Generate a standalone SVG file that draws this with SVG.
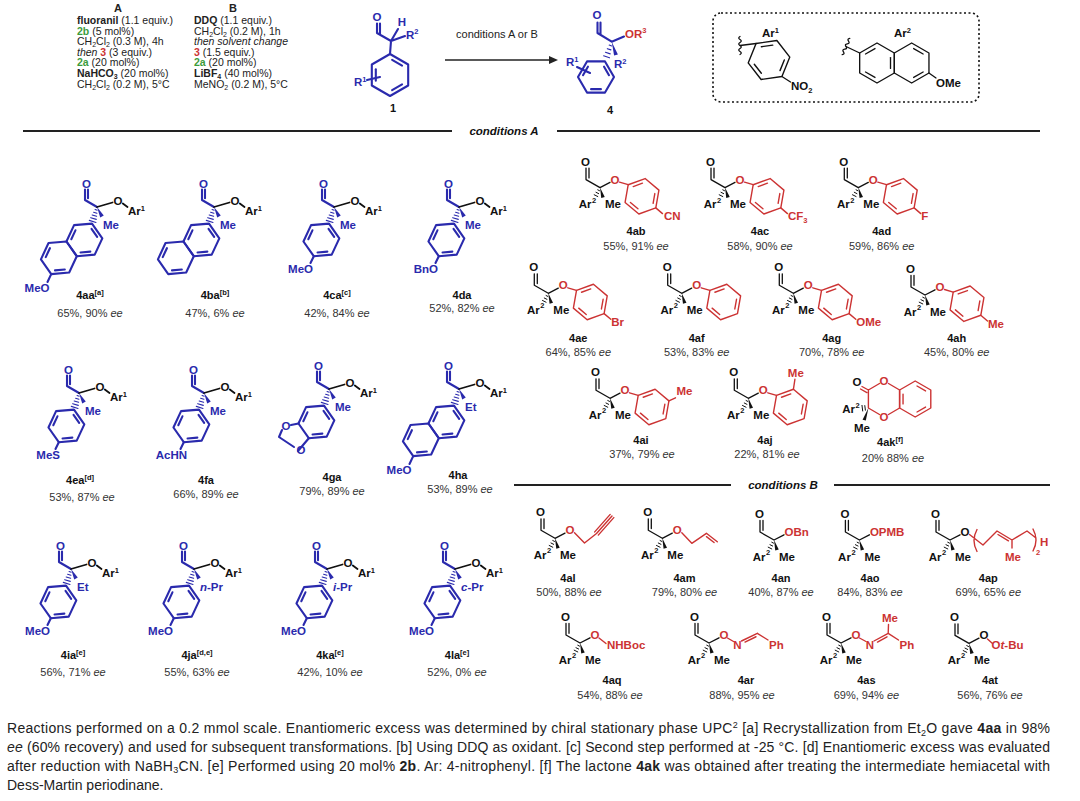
<svg xmlns="http://www.w3.org/2000/svg" width="1080" height="801" viewBox="0 0 1080 801">
<defs>
<style>
.al{font-family:"Liberation Sans",Arial,sans-serif;font-size:11.5px;font-weight:bold}
.lb{font-family:"Liberation Sans",Arial,sans-serif;font-size:11px;font-weight:bold;text-anchor:middle;fill:#111}
.yl{font-family:"Liberation Sans",Arial,sans-serif;font-size:11px;text-anchor:middle;fill:#333}
.B{fill:#2a2aad}
.K{fill:#111}
.R{fill:#cc3333}
.sb{stroke:#2a2aad;stroke-width:2.1;fill:none;stroke-linecap:round;stroke-linejoin:round}
.sk{stroke:#111;stroke-width:1.3;fill:none;stroke-linecap:round;stroke-linejoin:round}
.sk2{stroke:#111;stroke-width:1.8;fill:none;stroke-linecap:round}
.sr{stroke:#cc3333;stroke-width:1.4;fill:none;stroke-linecap:round;stroke-linejoin:round}
.sup{font-size:7.5px}
.sub{font-size:7px}
.cond{font-family:"Liberation Sans",Arial,sans-serif;font-size:10.5px;fill:#222}
.foot{font-family:"Liberation Sans",Arial,sans-serif;font-size:14px;fill:#222}
.rule{stroke:#222;stroke-width:2}
.g{fill:#3c9c3c;font-weight:bold}
.r3{fill:#cc3333;font-weight:bold}
.bd{font-weight:bold}
.it{font-style:italic}
</style>
<polygon id="hex" points="0,-18 15.59,-9 15.59,9 0,18 -15.59,9 -15.59,-9" fill="none"/>
<path id="d01" d="M1.82,-12.99 L10.34,-8.07"/>
<path id="d23" d="M10.34,8.07 L1.82,12.99"/>
<path id="d45" d="M-12.16,4.91 L-12.16,-4.91"/>
<path id="d12" d="M12.16,-4.91 L12.16,4.91"/>
<path id="d34" d="M-1.82,12.99 L-10.34,8.07"/>
<path id="d50" d="M-10.34,-8.07 L-1.82,-12.99"/>
<g id="benz"><use href="#hex"/><use href="#d01"/><use href="#d23"/><use href="#d45"/></g>
<g id="benzB"><use href="#hex"/><use href="#d12"/><use href="#d34"/><use href="#d50"/></g>
<g id="naph"><use href="#benz"/><g transform="translate(-15.59,27)"><use href="#hex"/><use href="#d23"/><use href="#d45"/></g></g>
<path id="sq" d="M0,-9 q-2.5,1.5 0,3 q2.5,1.5 0,3 q-2.5,1.5 0,3 q2.5,1.5 0,3 q-2.5,1.5 0,3 q2.5,1.5 0,3"/>
<g id="coreL">
 <path class="sb" d="M0,0 L-12,-7 L-12,-17.5 M-9,-8.8 L-9,-17.5"/>
 <text class="al B" x="-10.5" y="-19.5" text-anchor="middle">O</text>
 <path class="sk2" d="M0,0 L15.5,-4.5 M25.8,-3.5 L30.5,0"/>
 <text class="al K" x="21" y="-2" text-anchor="middle">O</text>
 <text class="al K" x="31" y="8">Ar<tspan class="sup" dy="-4.5">1</tspan></text>
 <path class="sb" style="stroke-width:1.1" d="M-1.93,2.56 L0.19,3.2 M-3.36,5.27 L-0.1,6.25 M-4.81,7.98 L-0.39,9.3 M-6.25,10.68 L-0.69,12.36 M-7.7,13.39 L-0.98,15.41"/>
 <polygon class="B" points="0,0 6.77,8.57 3.23,10.43"/>
</g>
<g id="ringL"><use href="#benz" class="sb" transform="translate(-12.61,32.91) rotate(25)"/></g>
<g id="coreR">
 <path class="sk" d="M0,0 L-14,-8 L-14,-19.5 M-11,-9.7 L-11,-19.5 M0,0 L10,-5.2"/>
 <text class="al K" x="-14.5" y="-22" text-anchor="middle">O</text>
 <text class="al K" x="-8.5" y="20.5" text-anchor="end">Ar</text>
 <text class="al K sup" x="-8" y="15">2</text>
 <text class="al K" x="5" y="20.5">Me</text>
 <path class="sk" style="stroke-width:1" d="M-2.23,2.23 L-0.45,3.13 M-4.02,4.7 L-1.34,6.04 M-5.81,7.16 L-2.23,8.94"/>
 <polygon class="K" points="0,0 4.72,9.48 1.28,10.52"/>
</g>
<g id="arR">
 <path class="sr" d="M19.5,-5.5 L28.2,-2.9"/>
 <use href="#benz" class="sr" transform="translate(42,8.7) rotate(-50)"/>
</g>
</defs>
<rect width="1080" height="801" fill="#fff"/>

<!-- conditions header -->
<g id="conditions">
 <text class="cond bd" x="118" y="12" text-anchor="middle" style="font-size:11px">A</text>
 <text class="cond bd" x="233" y="12" text-anchor="middle" style="font-size:11px">B</text>
 <text class="cond" x="77" y="24"><tspan class="bd">fluoranil</tspan> (1.1 equiv.)</text>
 <text class="cond" x="77" y="34.6"><tspan class="g">2b</tspan> (5 mol%)</text>
 <text class="cond" x="77" y="45.2">CH<tspan class="sub" dy="2">2</tspan><tspan dy="-2">Cl</tspan><tspan class="sub" dy="2">2</tspan><tspan dy="-2"> (0.3 M), 4h</tspan></text>
 <text class="cond" x="77" y="55.8"><tspan class="it">then</tspan> <tspan class="r3">3</tspan> (3 equiv.)</text>
 <text class="cond" x="77" y="66.4"><tspan class="g">2a</tspan> (20 mol%)</text>
 <text class="cond" x="77" y="77"><tspan class="bd">NaHCO</tspan><tspan class="bd sub" dy="2">3</tspan><tspan dy="-2"> (20 mol%)</tspan></text>
 <text class="cond" x="77" y="87.6">CH<tspan class="sub" dy="2">2</tspan><tspan dy="-2">Cl</tspan><tspan class="sub" dy="2">2</tspan><tspan dy="-2"> (0.2 M), 5°C</tspan></text>
 <text class="cond" x="194" y="24"><tspan class="bd">DDQ</tspan> (1.1 equiv.)</text>
 <text class="cond" x="194" y="34.6">CH<tspan class="sub" dy="2">2</tspan><tspan dy="-2">Cl</tspan><tspan class="sub" dy="2">2</tspan><tspan dy="-2"> (0.2 M), 1h</tspan></text>
 <text class="cond it" x="194" y="45.2">then solvent change</text>
 <text class="cond" x="194" y="55.8"><tspan class="r3">3</tspan> (1.5 equiv.)</text>
 <text class="cond" x="194" y="66.4"><tspan class="g">2a</tspan> (20 mol%)</text>
 <text class="cond" x="194" y="77"><tspan class="bd">LiBF</tspan><tspan class="bd sub" dy="2">4</tspan><tspan dy="-2"> (40 mol%)</tspan></text>
 <text class="cond" x="194" y="87.6">MeNO<tspan class="sub" dy="2">2</tspan><tspan dy="-2"> (0.2 M), 5°C</tspan></text>
</g>

<!-- compound 1 -->
<g id="c1">
 <path class="sb" d="M391,41 L377,33 L377,23.5 M380,34.7 L380,23.5 M391,41 L398,29 M391,41 L405,36 M391,41 L390,54 M367,80 L380,77"/>
 <text class="al B" x="377" y="21" text-anchor="middle">O</text>
 <text class="al B" x="402" y="26" text-anchor="middle">H</text>
 <text class="al B" x="406" y="38.5">R<tspan class="sup" dy="-4.5">2</tspan></text>
 <text class="al B" x="354" y="86">R<tspan class="sup" dy="-4.5">1</tspan></text>
 <use href="#benz" class="sb" style="stroke-width:1.8" transform="translate(390,75) scale(1.1667)"/>
 <text class="lb" x="393" y="112">1</text>
</g>

<!-- arrow -->
<g id="arrow">
 <text class="cond" x="497" y="38" text-anchor="middle" style="font-size:11px">conditions A or B</text>
 <line x1="445" y1="60" x2="551" y2="60" stroke="#222" stroke-width="1.3"/>
 <polygon points="549,56 558,60 549,64" fill="#222"/>
</g>

<!-- compound 4 -->
<g id="c4">
 <path class="sb" d="M611.7,41.7 L597.5,33 L597.5,22.5 M600.5,34.6 L600.5,22.5 M611.7,41.7 L624,36.5 M577,67 L590,73"/>
 <text class="al B" x="597" y="19" text-anchor="middle">O</text>
 <text class="al R" x="625" y="37.5">OR<tspan class="sup" dy="-4.5">3</tspan></text>
 <polygon class="B" points="611.7,41.7 617.9,54.4 614.1,55.6"/>
 <path class="sb" style="stroke-width:1.1" d="M609.18,45.07 L611.64,45.91 M607.32,48.67 L610.92,49.89 M605.47,52.26 L610.21,53.86 M603.61,55.85 L609.49,57.85"/>
 <text class="al B" x="614" y="68">R<tspan class="sup" dy="-4.5">2</tspan></text>
 <text class="al B" x="566" y="66">R<tspan class="sup" dy="-4.5">1</tspan></text>
 <use href="#benz" class="sb" transform="translate(596,77) rotate(30)"/>
 <text class="lb" x="610" y="114">4</text>
</g>

<!-- Ar box -->
<g id="arbox">
 <rect x="713" y="13" width="266" height="89" rx="8" fill="none" stroke="#111" stroke-width="1.6" stroke-dasharray="2,2.5"/>
 <text class="al K" x="762" y="37">Ar<tspan class="sup" dy="-4.5">1</tspan></text>
 <use href="#benz" class="sk" style="stroke-width:1.2" transform="translate(769,60) rotate(-38) scale(1.1667)"/>
 <path class="sk" d="M756.1,43.5 L740,45.5 M781.9,76.5 L790.5,82"/>
 <use href="#sq" class="sk" transform="translate(740,45.5)"/>
 <text class="al K" x="791" y="90">NO<tspan class="sup" dy="2.5">2</tspan></text>
 <text class="al K" x="894" y="37">Ar<tspan class="sup" dy="-4.5">2</tspan></text>
 <g transform="translate(877,63) scale(1.111)" class="sk" style="stroke-width:1.2">
  <use href="#benzB"/>
  <g transform="translate(31.18,0)"><use href="#hex"/><use href="#d01"/><use href="#d23"/></g>
 </g>
 <path class="sk" d="M859.7,53 L846,46.5 M928.9,73 L936,78"/>
 <use href="#sq" class="sk" transform="translate(846,46.5) rotate(25)"/>
 <text class="al K" x="936" y="87">OMe</text>
</g>

<!-- rules -->
<g id="rules">
 <line class="rule" x1="23" y1="131" x2="452" y2="131"/>
 <line class="rule" x1="557" y1="131" x2="1040" y2="131"/>
 <text class="al K" x="504" y="135" text-anchor="middle" font-style="italic">conditions A</text>
 <line class="rule" x1="514" y1="485" x2="731" y2="485"/>
 <line class="rule" x1="834" y1="485" x2="1050" y2="485"/>
 <text class="al K" x="783" y="489" text-anchor="middle" font-style="italic">conditions B</text>
</g>

<!-- left column, row 1 -->
<g id="c4aa" transform="translate(97,207)">
 <use href="#coreL"/><text class="al B" x="6" y="22">Me</text>
 <use href="#naph" class="sb" transform="translate(-12.61,32.91) rotate(25)"/>
 <path class="sb" d="M-45.8,67.1 L-49.5,75"/>
 <text class="al B" x="-47.5" y="85" text-anchor="end">MeO</text>
</g>
<text class="lb" x="90" y="299">4aa<tspan class="sup" dy="-4">[a]</tspan></text>
<text class="yl" x="90" y="317">65%, 90% <tspan class="it">ee</tspan></text>

<g id="c4ba" transform="translate(214,207)">
 <use href="#coreL"/><text class="al B" x="6" y="22">Me</text>
 <use href="#naph" class="sb" transform="translate(-12.61,32.91) rotate(25)"/>
</g>
<text class="lb" x="215" y="299">4ba<tspan class="sup" dy="-4">[b]</tspan></text>
<text class="yl" x="215" y="317">47%, 6% <tspan class="it">ee</tspan></text>

<g id="c4ca" transform="translate(334,207)">
 <use href="#coreL"/><text class="al B" x="6" y="22">Me</text><use href="#ringL"/>
 <path class="sb" d="M-20.2,49.2 L-23.5,56"/>
 <text class="al B" x="-21" y="65.7" text-anchor="end">MeO</text>
</g>
<text class="lb" x="337" y="299">4ca<tspan class="sup" dy="-4">[c]</tspan></text>
<text class="yl" x="337" y="317">42%, 84% <tspan class="it">ee</tspan></text>

<g id="c4da" transform="translate(459,207)">
 <use href="#coreL"/><text class="al B" x="6" y="22">Me</text><use href="#ringL"/>
 <path class="sb" d="M-20.2,49.2 L-23.5,56"/>
 <text class="al B" x="-21" y="65.7" text-anchor="end">BnO</text>
</g>
<text class="lb" x="462" y="299">4da</text>
<text class="yl" x="462" y="312">52%, 82% <tspan class="it">ee</tspan></text>

<!-- left column, row 2 -->
<g id="c4ea" transform="translate(79,393)">
 <use href="#coreL"/><text class="al B" x="6" y="22">Me</text><use href="#ringL"/>
 <path class="sb" d="M-20.2,49.2 L-23.5,56"/>
 <text class="al B" x="-19" y="65.7" text-anchor="end">MeS</text>
</g>
<text class="lb" x="80" y="484">4ea<tspan class="sup" dy="-4">[d]</tspan></text>
<text class="yl" x="82" y="501">53%, 87% <tspan class="it">ee</tspan></text>

<g id="c4fa" transform="translate(204,393)">
 <use href="#coreL"/><text class="al B" x="6" y="22">Me</text><use href="#ringL"/>
 <path class="sb" d="M-20.2,49.2 L-23.5,56"/>
 <text class="al B" x="-17" y="65.7" text-anchor="end">AcHN</text>
</g>
<text class="lb" x="206" y="484">4fa</text>
<text class="yl" x="206" y="498">66%, 89% <tspan class="it">ee</tspan></text>

<g id="c4ga" transform="translate(329,389)">
 <use href="#coreL"/><text class="al B" x="6" y="22">Me</text><use href="#ringL"/>
 <path class="sb" d="M-30.5,34.5 L-38,36 M-47,41 L-50,48 L-35,58 M-31,62 L-20.2,49.2"/>
 <text class="al B" x="-43" y="41" text-anchor="middle">O</text>
 <text class="al B" x="-28" y="65" text-anchor="middle">O</text>
</g>
<text class="lb" x="332" y="481">4ga</text>
<text class="yl" x="332" y="495">79%, 89% <tspan class="it">ee</tspan></text>

<g id="c4ha" transform="translate(459,389)">
 <use href="#coreL"/><text class="al B" x="6" y="22">Et</text>
 <use href="#naph" class="sb" transform="translate(-12.61,32.91) rotate(25)"/>
 <path class="sb" d="M-45.8,67.1 L-49.5,75"/>
 <text class="al B" x="-47.5" y="85" text-anchor="end">MeO</text>
</g>
<text class="lb" x="458" y="479">4ha</text>
<text class="yl" x="460" y="493">53%, 89% <tspan class="it">ee</tspan></text>

<!-- left column, row 3 -->
<g id="c4ia" transform="translate(71,569)">
 <use href="#coreL"/><text class="al B" x="6" y="22">Et</text><use href="#ringL"/>
 <path class="sb" d="M-20.2,49.2 L-23.5,56"/>
 <text class="al B" x="-21" y="65.7" text-anchor="end">MeO</text>
</g>
<text class="lb" x="73" y="659">4ia<tspan class="sup" dy="-4">[e]</tspan></text>
<text class="yl" x="73" y="676">56%, 71% <tspan class="it">ee</tspan></text>

<g id="c4ja" transform="translate(194,569)">
 <use href="#coreL"/><text class="al B" x="6" y="22"><tspan class="it">n</tspan>-Pr</text><use href="#ringL"/>
 <path class="sb" d="M-20.2,49.2 L-23.5,56"/>
 <text class="al B" x="-21" y="65.7" text-anchor="end">MeO</text>
</g>
<text class="lb" x="197" y="659">4ja<tspan class="sup" dy="-4">[d,e]</tspan></text>
<text class="yl" x="197" y="676">55%, 63% <tspan class="it">ee</tspan></text>

<g id="c4ka" transform="translate(327,569)">
 <use href="#coreL"/><text class="al B" x="6" y="22"><tspan class="it">i</tspan>-Pr</text><use href="#ringL"/>
 <path class="sb" d="M-20.2,49.2 L-23.5,56"/>
 <text class="al B" x="-21" y="65.7" text-anchor="end">MeO</text>
</g>
<text class="lb" x="330" y="659">4ka<tspan class="sup" dy="-4">[e]</tspan></text>
<text class="yl" x="330" y="676">42%, 10% <tspan class="it">ee</tspan></text>

<g id="c4la" transform="translate(455,569)">
 <use href="#coreL"/><text class="al B" x="6" y="22"><tspan class="it">c</tspan>-Pr</text><use href="#ringL"/>
 <path class="sb" d="M-20.2,49.2 L-23.5,56"/>
 <text class="al B" x="-21" y="65.7" text-anchor="end">MeO</text>
</g>
<text class="lb" x="457" y="659">4la<tspan class="sup" dy="-4">[e]</tspan></text>
<text class="yl" x="457" y="676">52%, 0% <tspan class="it">ee</tspan></text>

<!-- right column, conditions A -->
<g id="c4ab" transform="translate(600,187.6)">
 <use href="#coreR"/><text class="al R" x="15" y="-4" text-anchor="middle">O</text><use href="#arR"/>
 <path class="sr" d="M55.8,20.3 L62.5,26"/><text class="al R" x="64" y="32.7">CN</text>
</g>
<text class="lb" x="636" y="234.7">4ab</text>
<text class="yl" x="636" y="250">55%, 91% <tspan class="it">ee</tspan></text>

<g id="c4ac" transform="translate(725,187.6)">
 <use href="#coreR"/><text class="al R" x="15" y="-4" text-anchor="middle">O</text><use href="#arR"/>
 <path class="sr" d="M55.8,20.3 L62.5,26"/><text class="al R" x="63" y="32.7">CF<tspan class="sup" dy="2.5">3</tspan></text>
</g>
<text class="lb" x="760" y="234.7">4ac</text>
<text class="yl" x="760" y="250">58%, 90% <tspan class="it">ee</tspan></text>

<g id="c4ad" transform="translate(858.3,187.6)">
 <use href="#coreR"/><text class="al R" x="15" y="-4" text-anchor="middle">O</text><use href="#arR"/>
 <path class="sr" d="M55.8,20.3 L62.5,26"/><text class="al R" x="63" y="32.7">F</text>
</g>
<text class="lb" x="881.7" y="234.7">4ad</text>
<text class="yl" x="881.7" y="250">59%, 86% <tspan class="it">ee</tspan></text>

<g id="c4ae" transform="translate(548.3,293.3)">
 <use href="#coreR"/><text class="al R" x="15" y="-4" text-anchor="middle">O</text><use href="#arR"/>
 <path class="sr" d="M55.8,20.3 L62.5,26"/><text class="al R" x="63" y="32.7">Br</text>
</g>
<text class="lb" x="578.3" y="342">4ae</text>
<text class="yl" x="578.3" y="356">64%, 85% <tspan class="it">ee</tspan></text>

<g id="c4af" transform="translate(681.7,293.3)">
 <use href="#coreR"/><text class="al R" x="15" y="-4" text-anchor="middle">O</text><use href="#arR"/>
</g>
<text class="lb" x="696.7" y="342">4af</text>
<text class="yl" x="696.7" y="356">53%, 83% <tspan class="it">ee</tspan></text>

<g id="c4ag" transform="translate(793.3,293.3)">
 <use href="#coreR"/><text class="al R" x="15" y="-4" text-anchor="middle">O</text><use href="#arR"/>
 <path class="sr" d="M55.8,20.3 L62.5,26"/><text class="al R" x="63" y="32.7">OMe</text>
</g>
<text class="lb" x="831.7" y="342">4ag</text>
<text class="yl" x="831.7" y="356">70%, 78% <tspan class="it">ee</tspan></text>

<g id="c4ah" transform="translate(925,295)">
 <use href="#coreR"/><text class="al R" x="15" y="-4" text-anchor="middle">O</text><use href="#arR"/>
 <path class="sr" d="M55.8,20.3 L62.5,26"/><text class="al R" x="63" y="32.7">Me</text>
</g>
<text class="lb" x="956.7" y="342">4ah</text>
<text class="yl" x="956.7" y="356">45%, 80% <tspan class="it">ee</tspan></text>

<g id="c4ai" transform="translate(610,398.3)">
 <use href="#coreR"/><text class="al R" x="15" y="-4" text-anchor="middle">O</text><use href="#arR"/>
 <path class="sr" d="M58.9,2.55 L65.5,-0.5"/><text class="al R" x="66.5" y="-3">Me</text>
</g>
<text class="lb" x="641" y="443.5">4ai</text>
<text class="yl" x="642" y="458">37%, 79% <tspan class="it">ee</tspan></text>

<g id="c4aj" transform="translate(748.3,398.3)">
 <use href="#coreR"/><text class="al R" x="15" y="-4" text-anchor="middle">O</text><use href="#arR"/>
 <path class="sr" d="M45.13,-9.03 L46.6,-19"/><text class="al R" x="47.5" y="-21" text-anchor="middle">Me</text>
</g>
<text class="lb" x="765" y="443.5">4aj</text>
<text class="yl" x="767" y="458">22%, 81% <tspan class="it">ee</tspan></text>

<g id="c4ak">
 <path class="sr" d="M868.4,390 L879.5,383.5 M888.5,383.5 L899.6,390 L899.6,408 L888.5,414.5 M879.5,414.5 L868.4,408 L868.4,390 M868.4,390 L862,386.5 M866.9,392.6 L860.5,389"/>
 <use href="#benz" class="sr" transform="translate(915.2,399)"/>
 <text class="al R" x="884" y="385.2" text-anchor="middle">O</text>
 <text class="al R" x="884" y="421.2" text-anchor="middle">O</text>
 <text class="al K" x="857" y="386" text-anchor="middle">O</text>
 <text class="al K" x="855" y="413" text-anchor="end">Ar</text>
 <text class="al K sup" x="855.5" y="408">2</text>
 <path class="sk" style="stroke-width:1" d="M864.8,405.6 L865.4,410.2 M862,405.4 L862.7,411"/>
 <polygon class="K" points="868.4,408 865.8,420.5 862.6,419.7"/>
 <text class="al K" x="862" y="432" text-anchor="middle">Me</text>
</g>
<text class="lb" x="890" y="446">4ak<tspan class="sup" dy="-4">[f]</tspan></text>
<text class="yl" x="893" y="462">20% 88% <tspan class="it">ee</tspan></text>

<!-- right column, conditions B, row 1 -->
<g id="c4al" transform="translate(555,538.3)">
 <use href="#coreR"/><text class="al R" x="15" y="-4" text-anchor="middle">O</text>
 <path class="sr" d="M19.5,-5.5 L29.5,4.7 L41.5,-4.8 L57,-22.3 M43.3,-3.2 L58.8,-20.7 M39.7,-6.4 L55.2,-23.9"/>
</g>
<text class="lb" x="568" y="582">4al</text>
<text class="yl" x="569" y="595.5">50%, 88% <tspan class="it">ee</tspan></text>

<g id="c4am" transform="translate(662.3,538.3)">
 <use href="#coreR"/><text class="al R" x="15" y="-4" text-anchor="middle">O</text>
 <path class="sr" d="M19.5,-5.5 L29.5,5 L44.1,-5 L55,3.4 M44.15,-1.68 L51.77,4.2"/>
</g>
<text class="lb" x="684.5" y="582">4am</text>
<text class="yl" x="684.5" y="595.5">79%, 80% <tspan class="it">ee</tspan></text>

<g id="c4an" transform="translate(774,540)">
 <use href="#coreR"/><text class="al R" x="10.5" y="-4">OBn</text>
</g>
<text class="lb" x="781" y="582">4an</text>
<text class="yl" x="781" y="595.5">40%, 87% <tspan class="it">ee</tspan></text>

<g id="c4ao" transform="translate(859.4,540)">
 <use href="#coreR"/><text class="al R" x="10.5" y="-4">OPMB</text>
</g>
<text class="lb" x="870" y="582">4ao</text>
<text class="yl" x="870" y="595.5">84%, 83% <tspan class="it">ee</tspan></text>

<g id="c4ap" transform="translate(950,540)">
 <use href="#coreR"/><text class="al K" x="15" y="-4" text-anchor="middle">O</text>
 <path class="sr" d="M19.5,-5.5 L33,5 L47,-9 L62,0 L77,-9 L86,-2 M47.96,-5.51 L58.46,0.79 M62,0 L62,8 M27,-10.5 Q21,0.5 27,11.5 M83,-11 Q89,0 83,11"/>
 <text class="al R" x="63" y="21" text-anchor="middle">Me</text>
 <text class="al R" x="90" y="6">H</text>
 <text class="al R sup" x="86" y="15">2</text>
</g>
<text class="lb" x="988.3" y="582">4ap</text>
<text class="yl" x="988.3" y="595.5">69%, 65% <tspan class="it">ee</tspan></text>

<!-- conditions B, row 2 -->
<g id="c4aq" transform="translate(580,643)">
 <use href="#coreR"/><text class="al R" x="15" y="-4" text-anchor="middle">O</text>
 <path class="sr" d="M19,-5 L26,0.5"/>
 <text class="al R" x="27" y="6">NHBoc</text>
</g>
<text class="lb" x="612" y="684">4aq</text>
<text class="yl" x="610" y="699">54%, 88% <tspan class="it">ee</tspan></text>

<g id="c4ar" transform="translate(709,643)">
 <use href="#coreR"/><text class="al R" x="15" y="-4" text-anchor="middle">O</text>
 <path class="sr" d="M18.5,-5 L24.5,-1.5 M32.5,-2 L48.3,-9.7 M36,-0.95 L47,-6.25 M48.3,-9.7 L59,-3"/>
 <text class="al R" x="28.5" y="6.2" text-anchor="middle">N</text>
 <text class="al R" x="60" y="6.2">Ph</text>
</g>
<text class="lb" x="746" y="684">4ar</text>
<text class="yl" x="742" y="699">88%, 95% <tspan class="it">ee</tspan></text>

<g id="c4as" transform="translate(841,643)">
 <use href="#coreR"/><text class="al R" x="15" y="-4" text-anchor="middle">O</text>
 <path class="sr" d="M18.5,-5 L25,-1.5 M33,-2 L47.2,-9.7 M36.5,-0.9 L46,-6.2 M47.2,-9.7 L47.5,-18.5 M47.2,-9.7 L57.5,-3"/>
 <text class="al R" x="29" y="6.2" text-anchor="middle">N</text>
 <text class="al R" x="49" y="-21.5" text-anchor="middle">Me</text>
 <text class="al R" x="58.5" y="6.2">Ph</text>
</g>
<text class="lb" x="866.4" y="684">4as</text>
<text class="yl" x="866.4" y="699">69%, 94% <tspan class="it">ee</tspan></text>

<g id="c4at" transform="translate(969,643.4)">
 <use href="#coreR"/><text class="al K" x="15" y="-4" text-anchor="middle">O</text>
 <path class="sr" d="M18.5,-4.5 L23.5,0"/>
 <text class="al R" x="22.5" y="6">O<tspan class="it">t</tspan>-Bu</text>
</g>
<text class="lb" x="990" y="684">4at</text>
<text class="yl" x="990" y="699">56%, 76% <tspan class="it">ee</tspan></text>

<!-- footnote -->
<g id="footnote">
 <text class="foot" x="7" y="733" textLength="1043" lengthAdjust="spacing">Reactions performed on a 0.2 mmol scale. Enantiomeric excess was determined by chiral stationary phase UPC<tspan font-size="9" dy="-5">2</tspan><tspan dy="5"> [a] Recrystallization from Et</tspan><tspan font-size="9" dy="3">2</tspan><tspan dy="-3">O gave </tspan><tspan class="bd">4aa</tspan> in 98%</text>
 <text class="foot" x="7" y="752" textLength="1043" lengthAdjust="spacing"><tspan class="it">ee</tspan> (60% recovery) and used for subsequent transformations. [b] Using DDQ as oxidant. [c] Second step performed at -25 °C. [d] Enantiomeric excess was evaluated</text>
 <text class="foot" x="7" y="771" textLength="1043" lengthAdjust="spacing">after reduction with NaBH<tspan font-size="9" dy="2">3</tspan><tspan dy="-2">CN. [e] Performed using 20 mol% </tspan><tspan class="bd">2b</tspan>. Ar: 4-nitrophenyl. [f] The lactone <tspan class="bd">4ak</tspan> was obtained after treating the intermediate hemiacetal with</text>
 <text class="foot" x="7" y="790">Dess-Martin periodinane.</text>
</g>
</svg>
